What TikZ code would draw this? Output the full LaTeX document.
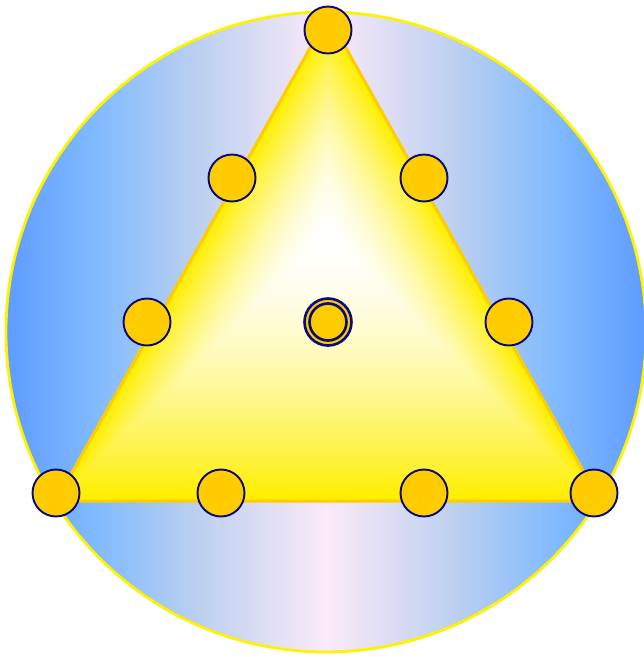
\documentclass[tikz,border=0pt]{standalone}
\usepackage{xcolor}
\usepackage{tikz}
\usetikzlibrary{positioning,calc}
\definecolor{DiscEdge}{HTML}{5E9CFF}
\definecolor{DiscMid}{HTML}{80BAFF}
\definecolor{DiscSoft}{HTML}{BCD0F0}
\definecolor{DiscCore}{HTML}{FCEAF8}
\definecolor{Rim}{HTML}{FFF200}
\definecolor{TriY}{HTML}{FFEE00}
\definecolor{TriEdge}{HTML}{FFCC00}
\definecolor{DotF}{HTML}{FFCC00}
\definecolor{DotN}{HTML}{0A0A80}
\pgfdeclarehorizontalshading{disc}{100bp}{color(0bp)=(DiscEdge); color(25bp)=(DiscEdge); color(32bp)=(DiscMid); color(40bp)=(DiscSoft); color(50bp)=(DiscCore); color(60bp)=(DiscSoft); color(68bp)=(DiscMid); color(75bp)=(DiscEdge); color(100bp)=(DiscEdge)}

\begin{document}
\begin{tikzpicture}[x=0.02cm,y=-0.02cm,
    dot/.style={circle,draw=DotN,fill=DotF,line width=1.1pt,minimum size=0.94cm,inner sep=0pt},
    hub/.style={dot,line width=1.5pt}]
  \useasboundingbox (0,0) rectangle (644,657);
  % disc behind the triangle
  \shade[shading=disc] (326,332) circle[radius=320];
  \draw[Rim,line width=1.6pt] (326,332) circle[radius=320];
  % triangle, light from the middle
  \coordinate (F) at (328,235);
  \coordinate (A) at (328,16);
  \coordinate (L) at (56,501);
  \coordinate (R) at (600,501);
  \foreach \i in {0,...,40}{
    \pgfmathsetmacro\f{1-\i/40}
    \pgfmathsetmacro\p{100*\f^1.7}
    \fill[TriY!\p!white] ($(F)!\f!(A)$) -- ($(F)!\f!(L)$) -- ($(F)!\f!(R)$) -- cycle;
  }
  \draw[TriEdge,line width=1.7pt,line join=round] (A) -- (L) -- (R) -- cycle;
  % dots
  \foreach \n/\x/\y in {top/328/30, ul/232/178, ur/424/178, ml/147/322, mr/509/322,
                        bl/56/493, bm1/221/493, bm2/424/493, br/594/493}
    \node[dot] (\n) at (\x,\y) {};
  \node[hub] (ctr) at (328,322) {};
  \draw[DotN,line width=1.5pt] (ctr.center) circle[radius=18.5];
\end{tikzpicture}
\end{document}
